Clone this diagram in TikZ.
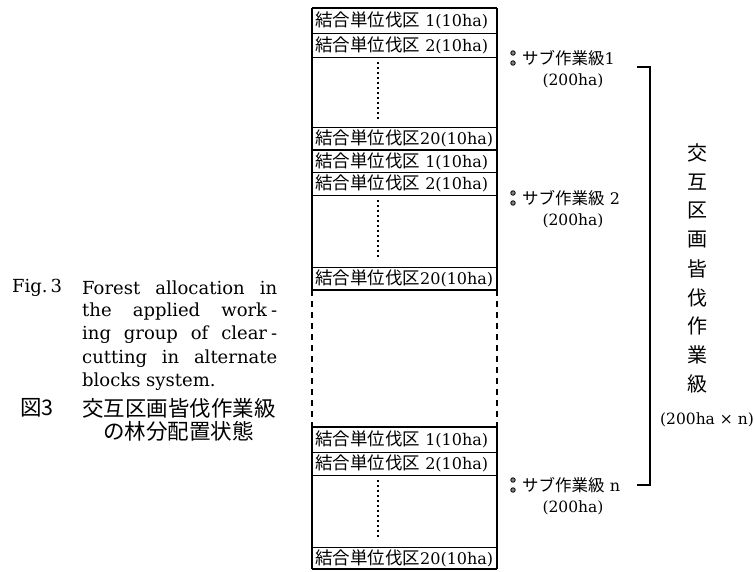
\documentclass[tikz,border=0pt]{standalone}
\usepackage{fontspec}
\setmainfont{DejaVu Serif}
\newfontfamily\jp{Noto Sans CJK JP}
\newfontfamily\capfont{DejaVu Serif}
\newcommand{\jline}[1]{\makebox[195pt][s]{#1}}
\newcommand{\rowlat}[1]{{\fontsize{16}{16}\selectfont #1}}
\newcommand{\lbllat}[1]{{\fontsize{16}{16}\selectfont #1}}
\begin{document}
\begin{tikzpicture}[x=1pt,y=-1pt,
  frame/.style={line width=1.3pt},
  sep/.style={line width=0.9pt},
  gapside/.style={line width=1.8pt, dash pattern=on 6pt off 5pt},
  vdots/.style={line width=1.8pt, dash pattern=on 1.8pt off 3.2pt},
  rowtxt/.style={anchor=west, inner sep=0pt, font=\fontsize{17.5}{17.5}\selectfont},
  lbl/.style={anchor=west, inner sep=0pt, font=\fontsize{16.5}{16.5}\selectfont},
  ha/.style={inner sep=0pt, font=\fontsize{15.5}{15.5}\selectfont},
  dotmark/.style={circle, draw, fill=gray, line width=0.8pt, inner sep=0pt, minimum size=4.5pt},
  captxt/.style={anchor=west, inner sep=0pt, font=\capfont\fontsize{18}{18}\selectfont},
  jcap/.style={anchor=west, inner sep=0pt, font=\jp\fontsize{21.5}{21.5}\selectfont},
  vchar/.style={inner sep=0pt, font=\jp\fontsize{20}{20}\selectfont},
  bracket/.style={line width=1.3pt}
]
\useasboundingbox (0,0) rectangle (755,571);

% blocks
\foreach \i/\t/\a/\b/\c/\d in {1/8/33/57/127/150, 2/150/172/195/267/290, 3/427/452/475/547/569}{
  \draw[frame] (312,\t) -- (497,\t);
  \draw[frame] (312,\d) -- (497,\d);
  \draw[frame] (312,\t) -- (312,\d);
  \draw[frame] (497,\t) -- (497,\d);
  \draw[sep] (312,\a) -- (497,\a);
  \draw[sep] (312,\b) -- (497,\b);
  \draw[sep] (312,\c) -- (497,\c);
  \node[rowtxt] (r\i a) at (315,{(\t+\a)/2}) {{\jp 結合単位伐区}\rowlat{ 1(10ha)}};
  \node[rowtxt] (r\i b) at (315,{(\a+\b)/2}) {{\jp 結合単位伐区}\rowlat{ 2(10ha)}};
  \node[rowtxt] (r\i c) at (315,{(\c+\d)/2}) {{\jp 結合単位伐区}\rowlat{20(10ha)}};
  \draw[vdots] (378,\b+5) -- (378,\c-8);
}
% dashed gap sides
\draw[gapside] (312,290) -- (312,427);
\draw[gapside] (497,290) -- (497,427);

% right labels
\foreach \j/\y/\n in {1/58/{\jp サブ作業級}\lbllat{1}, 2/198/{\jp サブ作業級}\lbllat{ 2}, 3/485/{\jp サブ作業級}\lbllat{ n}}{
  \node[dotmark] (da\j) at (513,\y-5) {};
  \node[dotmark] (db\j) at (513,\y+5) {};
  \node[lbl] (s\j) at (522,\y) {\n};
  \node[ha] (h\j) at (573,\y+23) {(200ha)};
}

% bracket
\coordinate (bt0) at (637,67);
\coordinate (bt) at (650,67);
\coordinate (bb) at (650,485);
\coordinate (bb0) at (637,485);
\draw[bracket] (bt0) -- (bt) -- (bb) -- (bb0);

% vertical title
\foreach \k/\ch in {0/交,1/互,2/区,3/画,4/皆,5/伐,6/作,7/業,8/級}{
  \node[vchar] (v\k) at (697,{153+28.9*\k}) {\ch};
}
\node[ha] (vn) at (707,420) {(200ha × n)};

% captions
\node[captxt] (fig) at (12,288) {Fig.\,3};
\node[captxt] (c1) at (82,288) {\jline{Forest allocation in}};
\node[captxt] (c2) at (82,311.5) {\jline{the applied work\hspace{4pt}-}};
\node[captxt] (c3) at (82,335) {\jline{ing group of clear\hspace{4pt}-}};
\node[captxt] (c4) at (82,358.5) {\jline{cutting in alternate}};
\node[captxt] (c5) at (82,382) {blocks system.};
\node[jcap] (zu) at (20,408) {図3};
\node[jcap] (j1) at (82,408) {交互区画皆伐作業級};
\node[jcap] (j2) at (103,431) {の林分配置状態};
\end{tikzpicture}
\end{document}
